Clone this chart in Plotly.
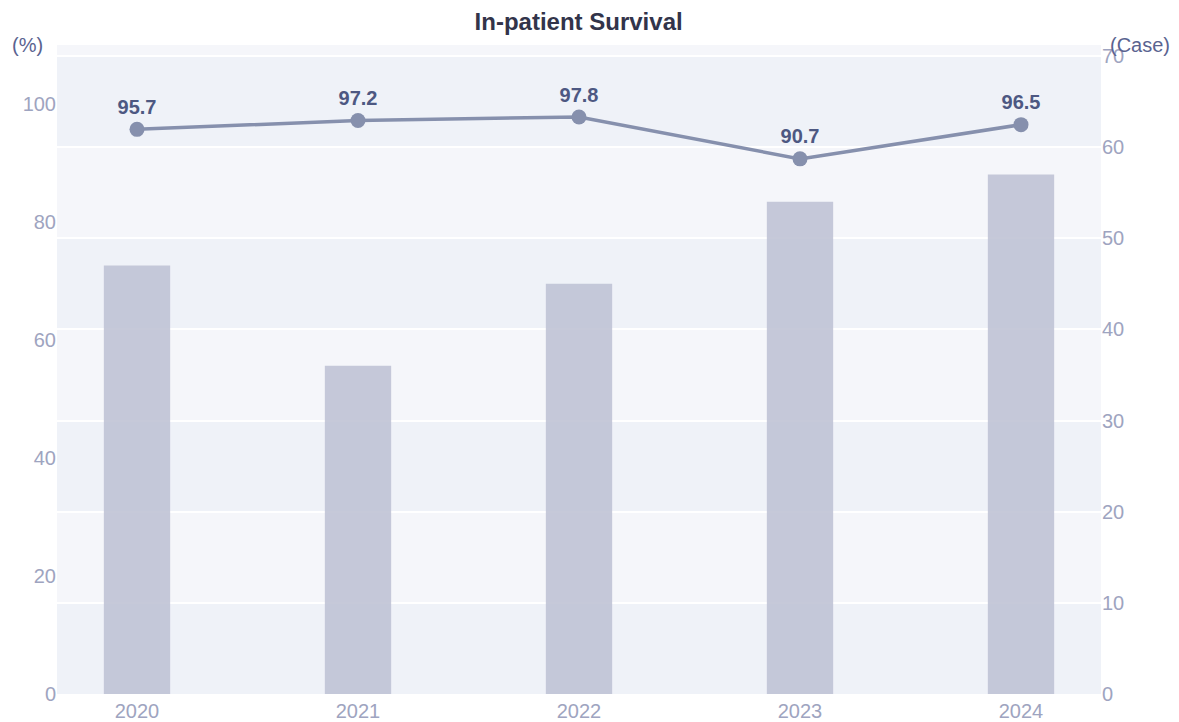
import plotly.graph_objects as go

years = ["2020", "2021", "2022", "2023", "2024"]
cases = [47, 36, 45, 54, 57]
survival = [95.7, 97.2, 97.8, 90.7, 96.5]
case_ticks = [0, 10, 20, 30, 40, 50, 60, 70]
pct_ticks = [0, 20, 40, 60, 80, 100]

FONT = "Arial, 'Liberation Sans', Helvetica, sans-serif"
TICK_COLOR = "#9ea4c0"

fig = go.Figure()
fig.add_trace(go.Bar(
    x=years, y=cases, yaxis="y", width=0.3,
    marker=dict(color="rgba(190,194,212,0.88)", line=dict(width=0)),
    hoverinfo="x+y", showlegend=False,
))
fig.add_trace(go.Scatter(
    x=years, y=survival, yaxis="y2", mode="lines+markers+text",
    line=dict(color="#8690ad", width=3.5),
    marker=dict(color="#8690ad", size=15),
    text=[f"{v:.1f}" for v in survival], textposition="top center",
    textfont=dict(family=FONT, size=20, color="#4d5882", weight="bold"),
    showlegend=False,
))

shapes = []
band_edges = case_ticks + [71.2]
for i in range(len(band_edges) - 1):
    shapes.append(dict(
        type="rect", xref="paper", yref="y", x0=0, x1=1,
        y0=band_edges[i], y1=band_edges[i + 1],
        fillcolor="#eff2f8" if i % 2 == 0 else "#f5f6fa",
        line=dict(width=0), layer="below",
    ))

fig.update_layout(
    width=1179, height=722,
    margin=dict(l=49, r=86, t=37, b=36),
    paper_bgcolor="white", plot_bgcolor="#f5f6fa",
    font=dict(family=FONT, color=TICK_COLOR),
    title=dict(text="<b>In-patient Survival</b>", x=0.484, xanchor="center",
               y=0.981, yanchor="middle",
               font=dict(family=FONT, size=24, color="#32344a")),
    shapes=shapes,
    xaxis=dict(showgrid=False, zeroline=False, showline=False, ticks="",
               range=[-0.362, 4.362], ticklabelstandoff=3,
               tickfont=dict(size=20, color=TICK_COLOR), automargin=False),
    yaxis=dict(side="right", range=[0, 71.2], tickvals=case_ticks,
               showgrid=True, gridcolor="white", gridwidth=2, zeroline=False,
               showline=False, ticks="", automargin=False,
               tickfont=dict(size=20, color=TICK_COLOR)),
    yaxis2=dict(side="left", overlaying="y", range=[0, 110], tickvals=pct_ticks,
                showgrid=False, zeroline=False, showline=False, ticks="",
                automargin=False, tickfont=dict(size=20, color=TICK_COLOR)),
    annotations=[
        dict(text="(%)", xref="paper", yref="paper", x=-0.028, y=1.0,
             xanchor="center", yanchor="middle", showarrow=False,
             font=dict(family=FONT, size=20, color="#5a6390")),
        dict(text="(Case)", xref="paper", yref="paper", x=1.037, y=1.0,
             xanchor="center", yanchor="middle", showarrow=False,
             font=dict(family=FONT, size=20, color="#5a6390")),
    ],
)

fig.write_html("out.html")
